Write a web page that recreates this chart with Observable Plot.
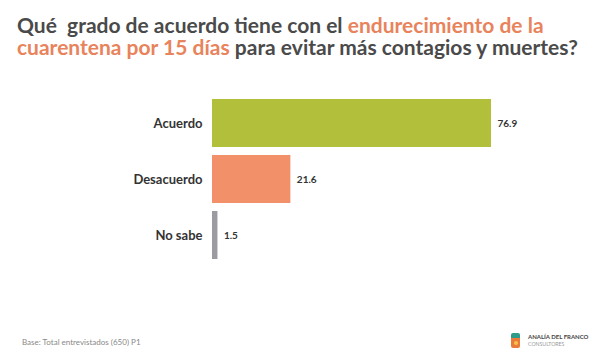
<!DOCTYPE html>
<html>
<head>
<meta charset="utf-8">
<script src="https://cdn.jsdelivr.net/npm/d3@7"></script>
<script src="https://cdn.jsdelivr.net/npm/@observablehq/plot@0.6"></script>
<style>
  html, body { margin: 0; padding: 0; background: #fff; }
  #wrap { position: relative; width: 610px; height: 355px; overflow: hidden; font-family: Lato, "DejaVu Sans", sans-serif; }
  #title { position: absolute; left: 17px; top: 14px; font-size: 21px; font-weight: 700; line-height: 22px; color: #4a4a4a; white-space: nowrap; }
  #title .hl { color: #e8835c; }
  #chart { position: absolute; left: 0; top: 85px; }
  #base { position: absolute; left: 22px; top: 337px; font-size: 8px; line-height: 10px; color: #888; white-space: nowrap; }
  #logo { position: absolute; left: 511px; top: 333px; width: 9px; height: 15px; }
  #logo .a { position: absolute; left: 0; top: 0; width: 9px; height: 5px; background: #2e9a8a; border-radius: 2px 2px 0 0; }
  #logo .b { position: absolute; left: 0; top: 5px; width: 9px; height: 10px; background: #e97a3a; border-radius: 0 0 2px 2px; }
  #logo .c { position: absolute; left: 2.5px; top: 8px; width: 4px; height: 4px; background: #f6c34a; border-radius: 50%; }
  #logotext { position: absolute; left: 528px; top: 334px; font-size: 6px; line-height: 6.5px; white-space: nowrap; }
  #logotext .n { font-weight: 700; color: #444; }
  #logotext .s { color: #999; font-size: 5.2px; }
</style>
</head>
<body>
<div id="wrap">
  <div id="title">Qué&nbsp; grado de acuerdo tiene con el <span class="hl">endurecimiento de la</span><br><span class="hl">cuarentena por 15 días</span> para evitar más contagios y muertes?</div>
  <div id="chart"></div>
  <div id="base">Base: Total entrevistados (650) P1</div>
  <div id="logo"><div class="a"></div><div class="b"></div><div class="c"></div></div>
  <div id="logotext"><div class="n">ANALÍA DEL FRANCO</div><div class="s">CONSULTORES</div></div>
</div>
<script>
const categories = ["Acuerdo", "Desacuerdo", "No sabe"];
const values = [76.9, 21.6, 1.5];
const colors = ["#b1bf3b", "#f2906a", "#9b9ba1"];

const data = categories.map((c, i) => ({category: c, value: values[i], color: colors[i]}));

const chart = Plot.plot({
  width: 610,
  height: 200,
  marginLeft: 212,
  marginRight: 119,
  marginTop: 4.5,
  marginBottom: 17.5,
  style: {fontFamily: "Lato, 'DejaVu Sans', sans-serif", background: "transparent"},
  x: {domain: [0, 76.9], axis: null},
  y: {domain: categories, padding: 0.15, label: null, axis: null},
  marks: [
    Plot.barX(data, {x: "value", y: "category", fill: "color"}),
    Plot.text(data, {x: "value", y: "category", text: d => d.value.toFixed(1), textAnchor: "start", dx: 6, fontSize: 10, fontWeight: 700, fill: "#333"}),
    Plot.axisY({tickSize: 0, tickPadding: 10, fontSize: 13, fontWeight: 700, fill: "#333", label: null})
  ]
});
document.getElementById("chart").appendChild(chart);
</script>
</body>
</html>
